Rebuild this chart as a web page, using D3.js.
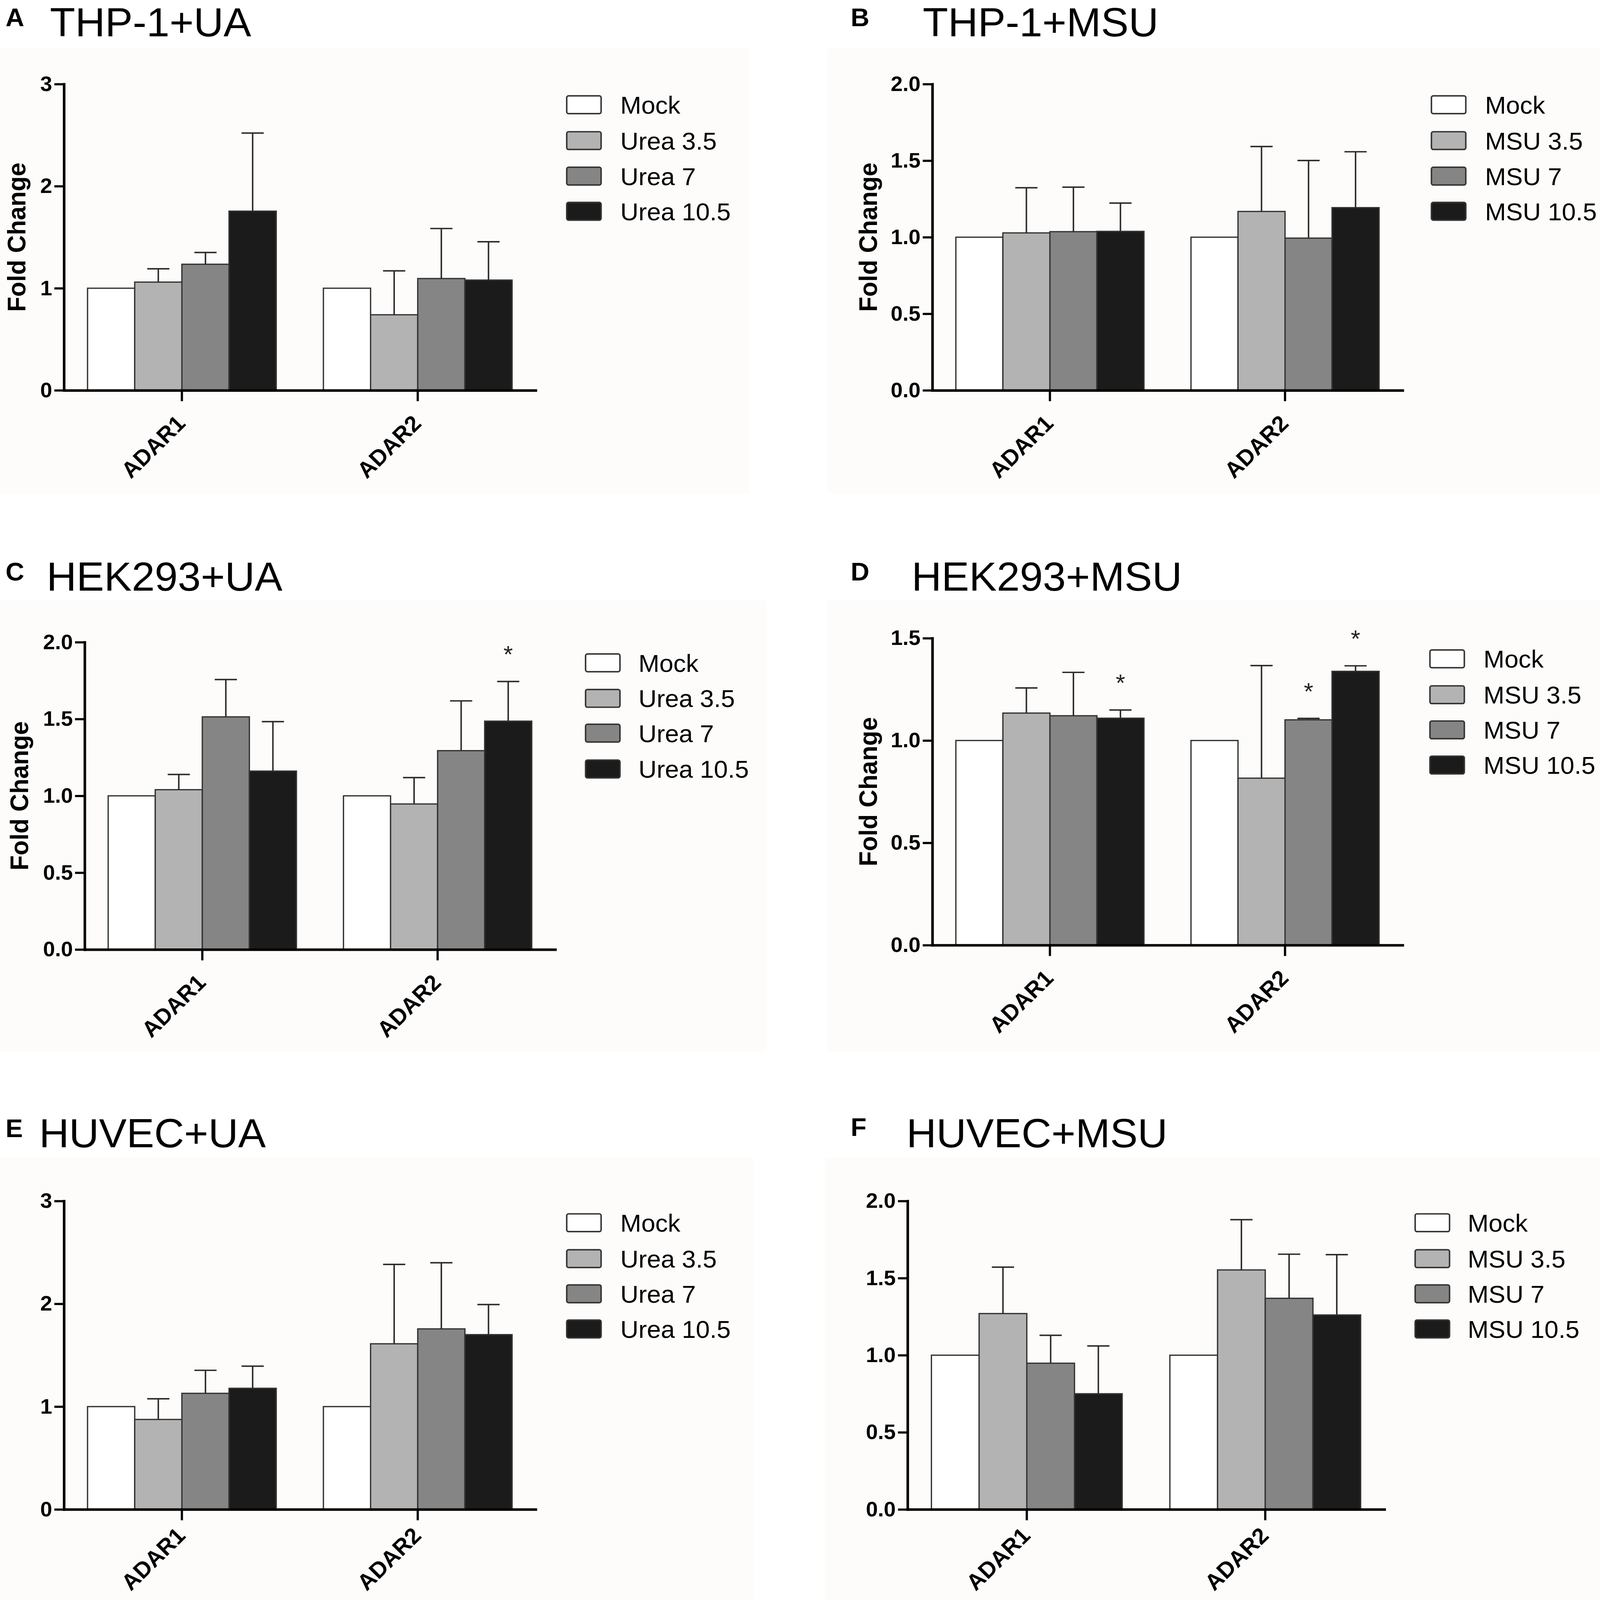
<!DOCTYPE html>
<html>
<head>
<meta charset="utf-8">
<script src="https://cdn.jsdelivr.net/npm/d3@7"></script>
<style>
  html, body { margin: 0; padding: 0; overflow: hidden; background: #ffffff; }
  svg { display: block; width: 100vw; height: 100vh; font-family: "Liberation Sans", Arial, sans-serif; }
</style>
</head>
<body>
<div id="chart"></div>
<script>
// Data (fold change, mean and upper SEM)
const categories = ['ADAR1', 'ADAR2'];
const uaSeries = ['Mock', 'Urea 3.5', 'Urea 7', 'Urea 10.5'];
const msuSeries = ['Mock', 'MSU 3.5', 'MSU 7', 'MSU 10.5'];

const thpUaMeans = [[1, 1.06, 1.235, 1.755], [1, 0.74, 1.095, 1.08]];
const thpUaErr   = [[0, 0.13, 0.115, 0.765], [0, 0.43, 0.49, 0.375]];
const thpMsuMeans = [[1, 1.028, 1.036, 1.038], [1, 1.168, 0.994, 1.193]];
const thpMsuErr   = [[0, 0.295, 0.291, 0.185], [0, 0.424, 0.507, 0.365]];

const hekUaMeans = [[1, 1.04, 1.514, 1.161], [1, 0.947, 1.294, 1.486]];
const hekUaErr   = [[0, 0.099, 0.243, 0.322], [0, 0.172, 0.324, 0.258]];
const hekUaSig   = [[0, 0, 0, 0], [0, 0, 0, 1]];
const hekMsuMeans = [[1, 1.134, 1.121, 1.109], [1, 0.816, 1.101, 1.338]];
const hekMsuErr   = [[0, 0.123, 0.212, 0.04], [0, 0.55, 0.007, 0.027]];
const hekMsuSig   = [[0, 0, 0, 1], [0, 0, 1, 1]];

const huvUaMeans = [[1, 0.875, 1.129, 1.178], [1, 1.611, 1.756, 1.70]];
const huvUaErr   = [[0, 0.201, 0.224, 0.215], [0, 0.772, 0.643, 0.293]];
const huvMsuMeans = [[1, 1.27, 0.948, 0.75], [1, 1.553, 1.369, 1.261]];
const huvMsuErr   = [[0, 0.301, 0.181, 0.31], [0, 0.326, 0.286, 0.391]];

const ticks3 = [0, 1, 2, 3];
const ticks2 = [0, 0.5, 1.0, 1.5, 2.0];
const ticks15 = [0, 0.5, 1.0, 1.5];

const fills = ['#ffffff', '#b3b3b3', '#858585', '#1b1b1b'];

const W = 4328, H = 4415;

// Panel layout (pixel positions)
const panels = [
    { letter: 'A', title: 'THP-1+UA', series: uaSeries, means: thpUaMeans, err: thpUaErr, sig: null,
      yMax: 3, ticks: ticks3, fmt: 'd', bg: [0, 135, 2027, 1362],
      letterPos: [15, 72], titlePos: [135, 100], labelDy: 95,
      ax: 173, top: 232, bottom: 1077, right: 1449, yTitleX: 69,
      legX: 1533, legTextX: 1678, legY: [289, 388, 486, 583] },
    { letter: 'B', title: 'THP-1+MSU', series: msuSeries, means: thpMsuMeans, err: thpMsuErr, sig: null,
      yMax: 2, ticks: ticks2, fmt: '.1f', bg: [2238, 135, 4328, 1362],
      letterPos: [2301, 72], titlePos: [2496, 100], labelDy: 95,
      ax: 2522, top: 232, bottom: 1077, right: 3794, yTitleX: 2372,
      legX: 3872, legTextX: 4017, legY: [289, 388, 486, 583] },
    { letter: 'C', title: 'HEK293+UA', series: uaSeries, means: hekUaMeans, err: hekUaErr, sig: hekUaSig,
      yMax: 2, ticks: ticks2, fmt: '.1f', bg: [0, 1658, 2073, 2902],
      letterPos: [15, 1602], titlePos: [126, 1630], labelDy: 95,
      ax: 229, top: 1772, bottom: 2620, right: 1502, yTitleX: 76,
      legX: 1584, legTextX: 1727, legY: [1829, 1927, 2023, 2122] },
    { letter: 'D', title: 'HEK293+MSU', series: msuSeries, means: hekMsuMeans, err: hekMsuErr, sig: hekMsuSig,
      yMax: 1.5, ticks: ticks15, fmt: '.1f', bg: [2237, 1658, 4328, 2902],
      letterPos: [2301, 1602], titlePos: [2466, 1630], labelDy: 95,
      ax: 2522, top: 1761, bottom: 2608, right: 3794, yTitleX: 2372,
      legX: 3868, legTextX: 4013, legY: [1818, 1917, 2014, 2111] },
    { letter: 'E', title: 'HUVEC+UA', series: uaSeries, means: huvUaMeans, err: huvUaErr, sig: null,
      yMax: 3, ticks: ticks3, fmt: 'd', bg: [0, 3194, 2039, 4415],
      letterPos: [15, 3138], titlePos: [106, 3166], labelDy: 76,
      ax: 173, top: 3314, bottom: 4165, right: 1449, yTitleX: null,
      legX: 1533, legTextX: 1678, legY: [3374, 3473, 3570, 3667] },
    { letter: 'F', title: 'HUVEC+MSU', series: msuSeries, means: huvMsuMeans, err: huvMsuErr, sig: null,
      yMax: 2, ticks: ticks2, fmt: '.1f', bg: [2233, 3194, 4328, 4415],
      letterPos: [2301, 3134], titlePos: [2452, 3166], labelDy: 76,
      ax: 2455, top: 3314, bottom: 4165, right: 3745, yTitleX: null,
      legX: 3828, legTextX: 3970, legY: [3374, 3473, 3570, 3667] }
];

const svg = d3.select('#chart')
    .append('svg')
    .attr('viewBox', `0 0 ${W} ${H}`)
    .attr('preserveAspectRatio', 'none');

svg.append('rect')
    .attr('width', W)
    .attr('height', H)
    .attr('fill', '#ffffff');

panels.forEach(p => {
    const g = svg.append('g');

    // faint panel background
    g.append('rect')
        .attr('x', p.bg[0]).attr('y', p.bg[1])
        .attr('width', p.bg[2] - p.bg[0]).attr('height', p.bg[3] - p.bg[1])
        .attr('fill', '#fdfcfb');

    // panel letter and title
    g.append('text')
        .attr('x', p.letterPos[0]).attr('y', p.letterPos[1])
        .style('font-size', '70px').style('font-weight', 'bold')
        .text(p.letter);
    g.append('text')
        .attr('x', p.titlePos[0]).attr('y', p.titlePos[1])
        .style('font-size', '112px')
        .text(p.title);

    // scales
    const x0 = d3.scaleBand()
        .domain(categories)
        .range([p.ax, p.right])
        .paddingInner(0.2)
        .paddingOuter(0.1);
    const x1 = d3.scaleBand()
        .domain(d3.range(p.series.length))
        .range([0, x0.bandwidth()]);
    const y = d3.scaleLinear()
        .domain([0, p.yMax])
        .range([p.bottom, p.top]);

    // bars
    const rows = categories.map((c, ci) => p.series.map((s, si) => ({
        cat: c, si: si, mean: p.means[ci][si], err: p.err[ci][si],
        sig: p.sig ? p.sig[ci][si] : 0
    })));
    const flat = rows.flat();

    g.selectAll('.bar')
        .data(flat)
        .enter()
        .append('rect')
        .attr('class', 'bar')
        .attr('x', d => x0(d.cat) + x1(d.si))
        .attr('y', d => y(d.mean))
        .attr('width', x1.bandwidth())
        .attr('height', d => y(0) - y(d.mean))
        .attr('fill', d => fills[d.si])
        .attr('stroke', '#333333')
        .attr('stroke-width', 3.5);

    // error bars (upper only)
    const withErr = flat.filter(d => d.err > 0);
    const cx = d => x0(d.cat) + x1(d.si) + x1.bandwidth() / 2;
    g.selectAll('.err-v')
        .data(withErr)
        .enter()
        .append('line')
        .attr('x1', cx).attr('x2', cx)
        .attr('y1', d => y(d.mean)).attr('y2', d => y(d.mean + d.err))
        .attr('stroke', '#2a2a2a').attr('stroke-width', 4);
    g.selectAll('.err-cap')
        .data(withErr)
        .enter()
        .append('line')
        .attr('x1', d => cx(d) - 30).attr('x2', d => cx(d) + 30)
        .attr('y1', d => y(d.mean + d.err)).attr('y2', d => y(d.mean + d.err))
        .attr('stroke', '#2a2a2a').attr('stroke-width', 4);

    // significance stars
    g.selectAll('.star')
        .data(flat.filter(d => d.sig))
        .enter()
        .append('text')
        .attr('x', cx)
        .attr('y', d => y(d.mean + d.err) - 52)
        .attr('text-anchor', 'middle')
        .style('font-size', '66px')
        .style('fill', '#222')
        .text('*');

    // axes
    const yAxis = g.append('g')
        .attr('transform', `translate(${p.ax},0)`)
        .call(d3.axisLeft(y).tickValues(p.ticks).tickFormat(d3.format(p.fmt))
            .tickSize(26).tickSizeOuter(0).tickPadding(6));
    const xAxis = g.append('g')
        .attr('transform', `translate(0,${p.bottom})`)
        .call(d3.axisBottom(x0).tickSize(30).tickSizeOuter(0));

    [yAxis, xAxis].forEach(a => {
        a.select('.domain').attr('stroke', '#000').attr('stroke-width', 7)
            .attr('stroke-linecap', 'square');
        a.selectAll('.tick line').attr('stroke', '#000').attr('stroke-width', 6);
    });
    yAxis.selectAll('.tick text')
        .style('font-size', '58px').style('font-weight', 'bold')
        .attr('fill', '#000');
    xAxis.selectAll('.tick text')
        .attr('x', 0).attr('y', 0).attr('dy', null)
        .attr('transform', `translate(13,${p.labelDy}) rotate(-45)`)
        .attr('text-anchor', 'end')
        .style('font-size', '62px').style('font-weight', 'bold')
        .attr('fill', '#000');

    // y axis title
    if (p.yTitleX !== null) {
        g.append('text')
            .attr('transform', `translate(${p.yTitleX},${(p.top + p.bottom) / 2}) rotate(-90)`)
            .attr('text-anchor', 'middle')
            .style('font-size', '68px').style('font-weight', 'bold')
            .text('Fold Change');
    }

    // legend
    const leg = g.selectAll('.leg')
        .data(p.series)
        .enter()
        .append('g')
        .attr('transform', (d, i) => `translate(0,${p.legY[i]})`);
    leg.append('rect')
        .attr('x', p.legX).attr('y', -24.5)
        .attr('width', 93).attr('height', 49)
        .attr('rx', 5)
        .attr('fill', (d, i) => fills[i])
        .attr('stroke', '#333333').attr('stroke-width', 4);
    leg.append('text')
        .attr('x', p.legTextX).attr('y', 0)
        .attr('dy', '0.36em')
        .style('font-size', '68px')
        .text(d => d);
});
</script>
</body>
</html>
